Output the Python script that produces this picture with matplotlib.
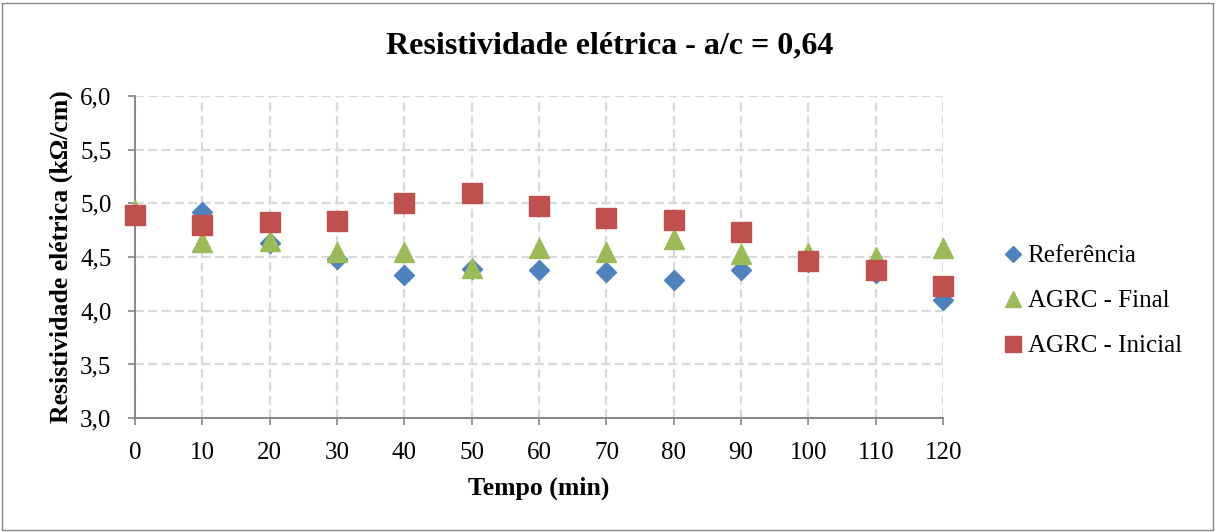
import matplotlib
matplotlib.use("Agg")
import matplotlib.pyplot as plt
from matplotlib.patches import Rectangle

plt.rcParams['font.family'] = ['Liberation Serif', 'DejaVu Serif']

tempo = [0, 10, 20, 30, 40, 50, 60, 70, 80, 90, 100, 110, 120]
referencia = [4.90, 4.92, 4.63, 4.48, 4.33, 4.39, 4.38, 4.36, 4.29, 4.38, 4.45, 4.35, 4.10]
agrc_final = [4.94, 4.64, 4.65, 4.55, 4.55, 4.40, 4.58, 4.55, 4.67, 4.53, 4.54, 4.50, 4.58]
agrc_inicial = [4.89, 4.80, 4.83, 4.84, 5.00, 5.10, 4.98, 4.86, 4.85, 4.73, 4.46, 4.38, 4.23]

series_names = ["Referência", "AGRC - Final", "AGRC - Inicial"]
y_ticks = [3.0, 3.5, 4.0, 4.5, 5.0, 5.5, 6.0]
x_ticks = tempo

fig = plt.figure(figsize=(12.17, 5.32), dpi=100)
ax = fig.add_axes([0.111, 0.214, 0.664, 0.6055])

ax.plot(tempo, referencia, linestyle='none', marker='D', markersize=10,
        color='#4F81BD', label=series_names[0], zorder=3, clip_on=False)
ax.plot(tempo, agrc_final, linestyle='none', marker='^', markersize=14,
        color='#9BBB59', label=series_names[1], zorder=4, clip_on=False)
ax.plot(tempo, agrc_inicial, linestyle='none', marker='s', markersize=14.4,
        color='#C0504D', label=series_names[2], zorder=5, clip_on=False)

ax.set_xlim(0, 120)
ax.set_ylim(3.0, 6.0)
ax.set_xticks(x_ticks)
ax.set_xticklabels([str(t) for t in x_ticks])
ax.set_yticks(y_ticks)
ax.set_yticklabels([f"{v:.1f}".replace('.', ',') for v in y_ticks])
ax.tick_params(axis='both', labelsize=18, labelcolor='#000000', length=5,
               width=1.2, direction='out', color='#868686')
ax.tick_params(axis='x', pad=12)
ax.tick_params(axis='y', pad=12)

ax.grid(True, color='#D9D9D9', linestyle=(0, (4, 2)), linewidth=1.6)
ax.set_axisbelow(True)
for side in ['top', 'right']:
    ax.spines[side].set_visible(False)
for side in ['left', 'bottom']:
    ax.spines[side].set_color('#868686')
    ax.spines[side].set_linewidth(1.4)

ax.set_xlabel("Tempo (min)", fontsize=18.5, fontweight='bold', labelpad=9)
ax.set_ylabel("Resistividade elétrica (kΩ/cm)", fontsize=18.5,
              fontweight='bold', labelpad=5)
fig.text(0.501, 1 - 46 / 532, "Resistividade elétrica - a/c = 0,64",
         fontsize=23, fontweight='bold', ha='center', va='center')

fig.legend(loc='center left', bbox_to_anchor=(1000 / 1217, 1 - 301 / 532),
           frameon=False, fontsize=18, handlelength=1.0, handletextpad=0.1,
           labelspacing=0.9, borderaxespad=0.0, borderpad=0.0,
           markerscale=0.8)

fig.add_artist(Rectangle((0.002, 0.004), 0.995, 0.991, transform=fig.transFigure,
                         fill=False, edgecolor='#868686', linewidth=1.0))

fig.savefig("out.png", dpi=100)
